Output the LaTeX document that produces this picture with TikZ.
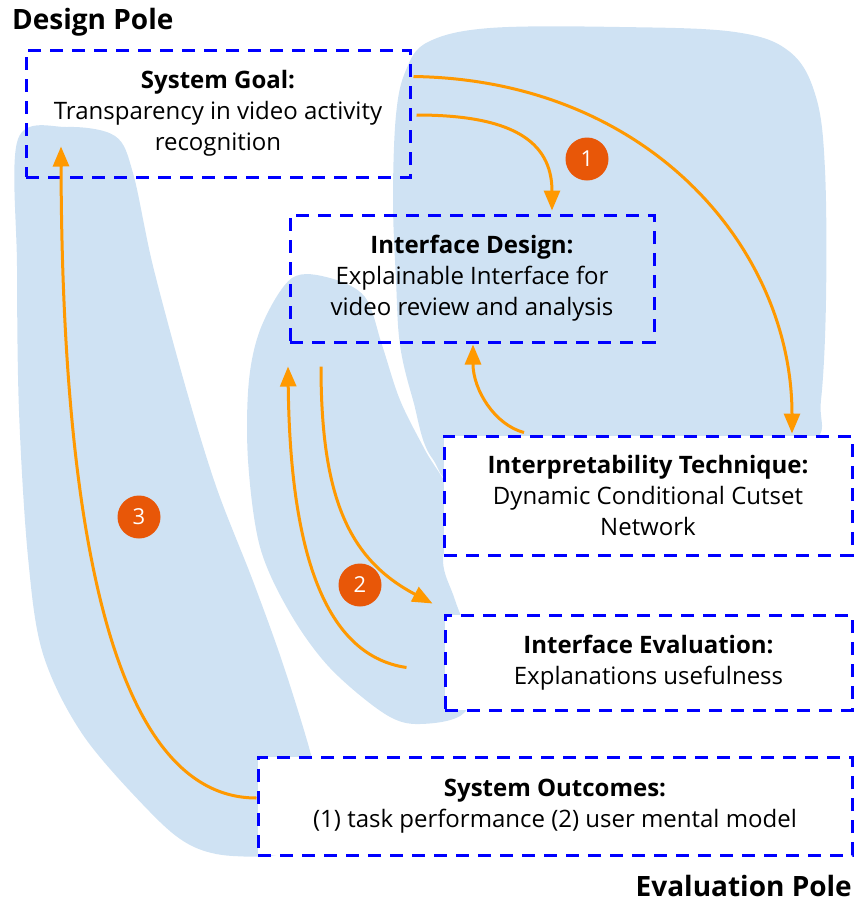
\documentclass[tikz,border=0pt]{standalone}
\usepackage{fontspec}
\setmainfont{Open Sans}
\usetikzlibrary{arrows.meta}
\definecolor{blobblue}{RGB}{207,226,243}
\definecolor{arrorange}{RGB}{255,153,0}
\definecolor{badgered}{RGB}{232,87,8}
\definecolor{boxblue}{RGB}{0,0,255}
\tikzset{
  blob/.style={fill=blobblue, draw=none},
  stagebox/.style={draw=boxblue, line width=3pt, dash pattern=on 13pt off 9pt,
    inner sep=0pt, align=center, font=\fontsize{24}{31}\selectfont},
  filledbox/.style={stagebox, fill=white},
  flow/.style={draw=arrorange, line width=3pt,
    -{Triangle[width=16pt,length=20pt]}},
  badge/.style={circle, fill=badgered, text=white, minimum size=43pt, inner sep=0pt,
    font=\fontsize{22}{22}\selectfont},
  pole/.style={font=\bfseries\fontsize{28}{34}\selectfont, inner sep=0pt}
}
\begin{document}
\begin{tikzpicture}[x=1pt, y=-1pt]
\useasboundingbox (0,0) rectangle (855,903);

% background regions
\fill[blob] plot[smooth cycle, tension=0.55] coordinates {
  (18,139) (67,127) (115,136) (133,173) (153,266) (187,392) (217,489)
  (253,581) (283,664) (310,751) (320,800) (290,850) (233,856) (190,845)
  (150,812) (83,735) (43,654) (28,557) (19,411) (17,266)};
\fill[blob] plot[smooth cycle, tension=0.55] coordinates {
  (292,278) (330,278) (365,297) (382,345) (400,400) (425,450) (455,505)
  (443,560) (455,600) (475,660) (465,712) (420,724) (385,714) (330,668)
  (290,613) (260,547) (248,460) (249,380) (262,325)};
\fill[blob] plot[smooth cycle, tension=0.6] coordinates {
  (428,42) (490,28) (620,27) (735,32) (790,52) (816,97) (825,170)
  (826,300) (821,400) (810,445) (700,490) (480,490) (432,458) (413,400)
  (400,345) (396,280) (393,200) (396,115) (406,70)};

% stage boxes
\node[stagebox, minimum width=384pt, minimum height=127pt] (goal) at (218,113.5)
  {\textbf{System Goal:}\\Transparency in video activity\\recognition};
\node[stagebox, minimum width=364pt, minimum height=127pt] (design) at (472,278.5)
  {\textbf{Interface Design:}\\Explainable Interface for\\video review and analysis};
\node[filledbox, minimum width=408pt, minimum height=119pt] (tech) at (648,495.5)
  {\textbf{Interpretability Technique:}\\Dynamic Conditional Cutset\\Network};
\node[filledbox, minimum width=407pt, minimum height=95pt] (ieval) at (648.5,662.5)
  {\textbf{Interface Evaluation:}\\Explanations usefulness};
\node[filledbox, minimum width=594pt, minimum height=98pt] (outcome) at (555,806)
  {\textbf{System Outcomes:}\\(1) task performance (2) user mental model};

% pole labels
\node[pole, anchor=base west] (dpole) at (12,29) {Design Pole};
\node[pole, anchor=base east] (epole) at (852,896) {Evaluation Pole};

% connector end points on the box borders
\coordinate (g1) at ([xshift=5pt, yshift=-1.5pt]goal.east);
\coordinate (g2) at ([xshift=2pt, yshift=-28pt]goal.north east);
\coordinate (d1) at ([xshift=80pt, yshift=3pt]design.north);
\coordinate (d2) at ([xshift=1pt, yshift=-1pt]design.south);
\coordinate (d3) at ([xshift=-151pt, yshift=-23pt]design.south);
\coordinate (d4) at ([xshift=-184pt, yshift=-23pt]design.south);
\coordinate (t1) at ([xshift=144pt, yshift=1pt]tech.north);
\coordinate (t2) at ([xshift=-124pt, yshift=2pt]tech.north);
\coordinate (e1) at ([xshift=-216pt, yshift=10pt]ieval.north);
\coordinate (e2) at ([xshift=-37pt, yshift=-5pt]ieval.west);
\coordinate (o1) at (outcome.west |- 0,798);
\coordinate (g3) at ([xshift=-157pt, yshift=32pt]goal.south);

% flows of loop 1
\draw[flow] (g1) .. controls (510,115) and (552,140) .. (d1);
\draw[flow] (g2) .. controls (650,80) and (792,250) .. (t1);
\draw[flow] (t2) .. controls (495,425) and (473,390) .. (d2);
% flows of loop 2
\draw[flow] (d3) .. controls (321,500) and (350,560) .. (e1);
\draw[flow] (e2) .. controls (320,655) and (290,540) .. (d4);
% flow of loop 3
\draw[flow] (o1) .. controls (110,798) and (62,520) .. (g3);

% loop numbers
\node[badge] (n1) at (587,159) {1};
\node[badge] (n2) at (360,585) {2};
\node[badge] (n3) at (139,517) {3};
\end{tikzpicture}
\end{document}
